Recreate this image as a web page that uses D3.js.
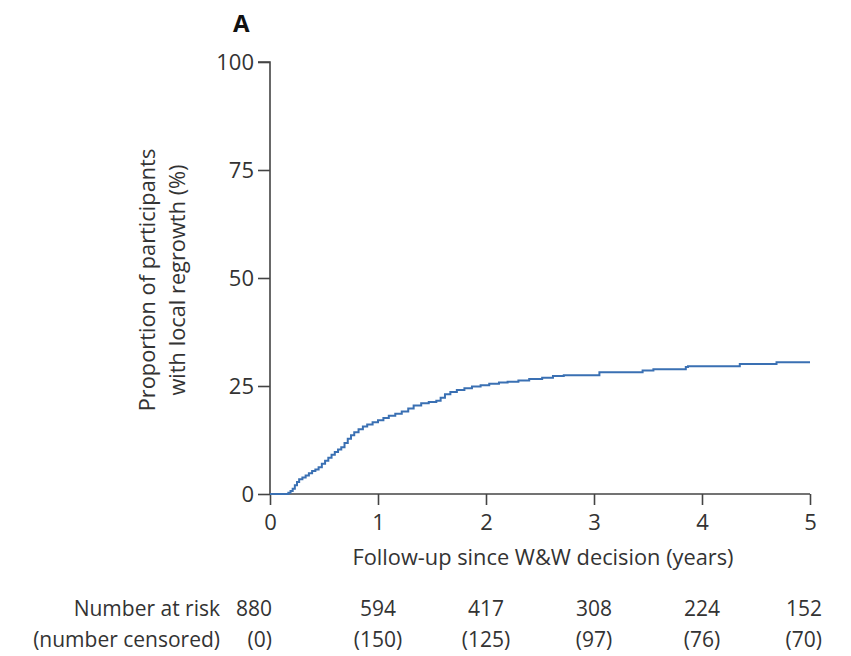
<!DOCTYPE html>
<html>
<head>
<meta charset="utf-8">
<script src="https://cdn.jsdelivr.net/npm/d3@7"></script>
<style>
  body { margin: 0; background: #fff; }
  svg { display: block; }
  text { font-family: "Open Sans", "Lato", sans-serif; fill: #333; }
</style>
</head>
<body>
<svg id="chart" width="851" height="656"></svg>
<script>
// Cumulative incidence of local regrowth (Kaplan-Meier style step curve)
const timeYears = [0, 0.17, 0.19, 0.21, 0.23, 0.25, 0.27, 0.30, 0.33, 0.36, 0.39, 0.42, 0.45,
  0.48, 0.51, 0.54, 0.57, 0.60, 0.63, 0.66, 0.69, 0.72, 0.75, 0.78, 0.82, 0.86, 0.90, 0.95,
  1.00, 1.05, 1.10, 1.16, 1.22, 1.28, 1.33, 1.40, 1.47, 1.54, 1.58, 1.62, 1.67, 1.73, 1.80,
  1.87, 1.95, 2.03, 2.12, 2.20, 2.30, 2.40, 2.52, 2.62, 2.72, 3.05, 3.45, 3.55, 3.85, 3.87,
  4.35, 4.69, 5.00];
const regrowthPct = [0, 0.3, 0.7, 1.2, 2.0, 2.8, 3.4, 3.8, 4.3, 4.8, 5.3, 5.7, 6.2,
  7.0, 7.7, 8.4, 9.1, 9.7, 10.3, 10.8, 11.8, 12.8, 13.6, 14.3, 15.0, 15.6, 16.1, 16.6,
  17.1, 17.6, 18.1, 18.6, 19.1, 19.8, 20.5, 21.0, 21.3, 21.6, 22.3, 23.1, 23.6, 24.1, 24.5,
  24.9, 25.2, 25.5, 25.8, 26.0, 26.3, 26.6, 26.9, 27.3, 27.5, 28.2, 28.6, 28.9, 29.4, 29.6,
  30.1, 30.5, 30.5];

const xTicks = [0, 1, 2, 3, 4, 5];
const yTicks = [0, 25, 50, 75, 100];
const numberAtRisk = [880, 594, 417, 308, 224, 152];
const numberCensored = [0, 150, 125, 97, 76, 70];

const panelLabel = "A";
const xTitle = "Follow-up since W&W decision (years)";
const yTitleLines = ["Proportion of participants", "with local regrowth (%)"];
const riskTitle = "Number at risk";
const censorTitle = "(number censored)";

const svg = d3.select("#chart");
const axisColor = "#444";
const textColor = "#333";
const fontSize = 21;
const tickSize = 22;
const titleSize = 21.8;

const x = d3.scaleLinear().domain([0, 5]).range([270, 810]);
const y = d3.scaleLinear().domain([0, 100]).range([494, 62]);

// Panel letter
svg.append("text")
  .attr("x", 233).attr("y", 32)
  .style("font-size", "24px").style("font-weight", "700")
  .style("fill", "#111")
  .text(panelLabel);

// Axes
const yAxis = svg.append("g")
  .attr("transform", `translate(${x(0)},0)`)
  .call(d3.axisLeft(y).tickValues(yTicks).tickFormat(d3.format("d"))
    .tickSize(12).tickPadding(4));
const xAxis = svg.append("g")
  .attr("transform", `translate(0,${y(0)})`)
  .call(d3.axisBottom(x).tickValues(xTicks).tickFormat(d3.format("d"))
    .tickSize(11).tickPadding(9));

[yAxis, xAxis].forEach(g => {
  g.select(".domain").attr("stroke", axisColor).attr("stroke-width", 1.6);
  g.selectAll(".tick line").attr("stroke", axisColor).attr("stroke-width", 1.6);
  g.selectAll(".tick text")
    .style("font-family", '"Open Sans", sans-serif')
    .style("font-size", tickSize + "px")
    .attr("fill", textColor);
});
yAxis.select(".domain").attr("d", `M-12,${y(100)}H0V${y(0)}`);
xAxis.select(".domain").attr("d", `M${x(0)},0H${x(5)}`);

// Axis titles
svg.append("text")
  .attr("x", (x(0) + x(5)) / 2 + 3).attr("y", 565)
  .attr("text-anchor", "middle")
  .style("font-size", titleSize + "px")
  .text(xTitle);

const yMid = (y(0) + y(100)) / 2;
yTitleLines.forEach((line, i) => {
  svg.append("text")
    .attr("transform", `translate(${155 + i * 30},${yMid + 2}) rotate(-90)`)
    .attr("text-anchor", "middle")
    .style("font-size", titleSize + "px")
    .text(line);
});

// Cumulative incidence curve
const data = timeYears.map((t, i) => ({ t, v: regrowthPct[i] }));
svg.append("path")
  .datum(data)
  .attr("fill", "none")
  .attr("stroke", "#3a70b3")
  .attr("stroke-width", 2)
  .attr("d", d3.line().x(d => x(d.t)).y(d => y(d.v)).curve(d3.curveStepAfter));

// Risk table
const riskY = 616, censY = 647;
svg.append("text").attr("x", 220).attr("y", riskY).attr("text-anchor", "end")
  .style("font-size", fontSize + "px").text(riskTitle);
svg.append("text").attr("x", 220).attr("y", censY).attr("text-anchor", "end")
  .style("font-size", fontSize + "px").text(censorTitle);

function colAnchor(i) {
  return i === 0 || i === xTicks.length - 1 ? "end" : "middle";
}
function colX(i) {
  if (i === 0) return x(xTicks[i]) + 2;
  if (i === xTicks.length - 1) return x(xTicks[i]) + 12;
  return x(xTicks[i]);
}
numberAtRisk.forEach((n, i) => {
  svg.append("text").attr("x", colX(i)).attr("y", riskY)
    .attr("text-anchor", colAnchor(i))
    .style("font-size", fontSize + "px").text(n);
  svg.append("text").attr("x", colX(i)).attr("y", censY)
    .attr("text-anchor", colAnchor(i))
    .style("font-size", fontSize + "px").text(`(${numberCensored[i]})`);
});
</script>
</body>
</html>
